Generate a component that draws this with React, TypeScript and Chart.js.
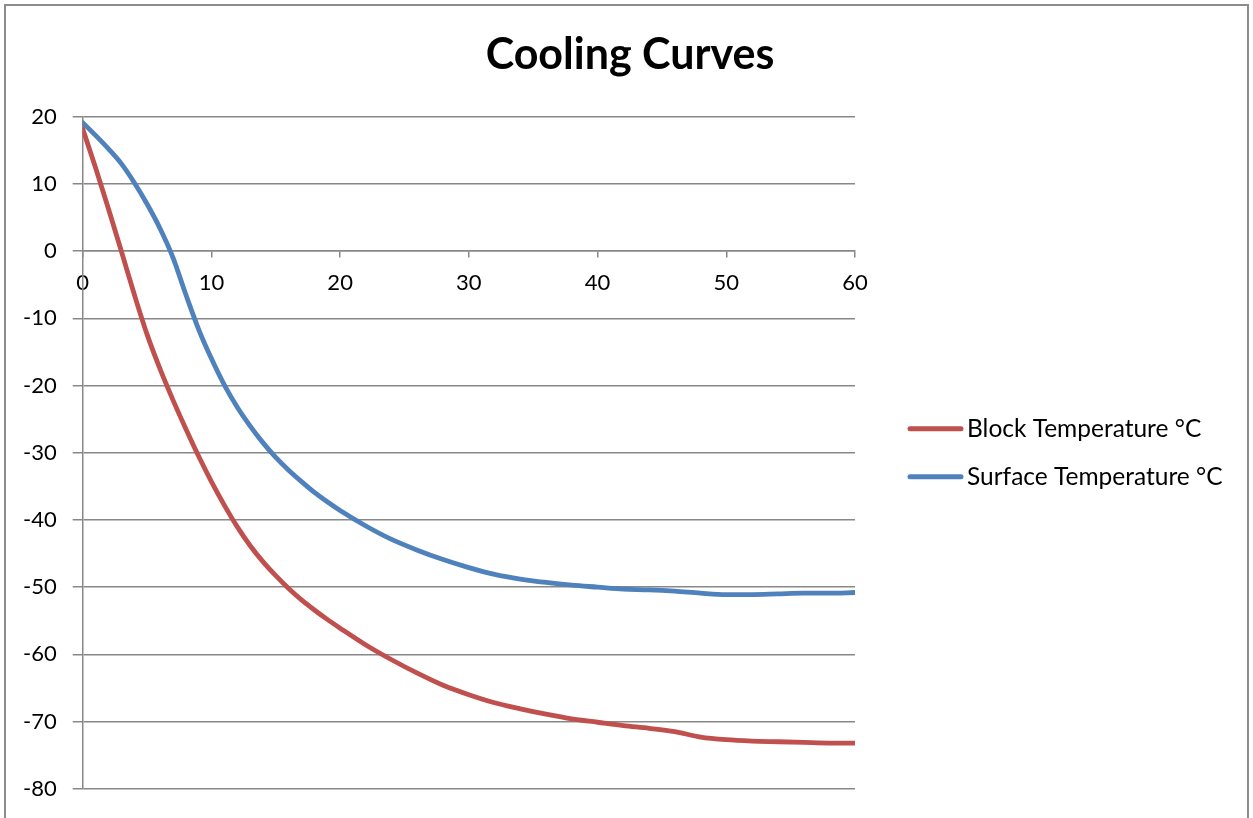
import React, { useEffect, useRef } from "react";
import { Chart, registerables } from "chart.js";

Chart.register(...registerables);

const minutes = [0,1,2,3,4,5,6,7,8,9,10,11,12,13,14,15,16,17,18,19,20,22,24,26,28,30,32,34,36,38,40,42,44,46,48,50,52,54,56,58,60];
const blockTemp = [18.2,12.4,6.3,0.0,-6.4,-12.4,-17.5,-22.1,-26.4,-30.5,-34.3,-37.8,-41.0,-43.8,-46.2,-48.3,-50.2,-51.9,-53.4,-54.8,-56.1,-58.6,-60.8,-62.8,-64.6,-66.0,-67.2,-68.1,-68.9,-69.6,-70.1,-70.6,-71.0,-71.5,-72.3,-72.7,-72.9,-73.0,-73.1,-73.2,-73.2];
const surfaceTemp = [19.1,17.2,15.2,13.0,10.2,7.0,3.4,-0.9,-6.4,-11.6,-16.0,-19.9,-23.2,-26.0,-28.5,-30.7,-32.6,-34.3,-35.9,-37.3,-38.6,-40.9,-42.9,-44.5,-45.9,-47.1,-48.1,-48.8,-49.3,-49.7,-50.0,-50.3,-50.4,-50.6,-50.9,-51.1,-51.1,-51.0,-50.9,-50.9,-50.8];
const seriesNames = ["Block Temperature °C", "Surface Temperature °C"];
const seriesColors = ["#C0504D", "#4F81BD"];
const chartTitle = "Cooling Curves";
const xTicks = [0, 10, 20, 30, 40, 50, 60];
const yTicks = [20, 10, 0, -10, -20, -30, -40, -50, -60, -70, -80];

const FONT = "Lato";

const sideLegend = {
  id: "sideLegend",
  afterDraw(chart: any) {
    const { ctx, chartArea } = chart;
    const cy = (chartArea.top + chartArea.bottom) / 2;
    const x0 = chartArea.right + 55;
    ctx.save();
    chart.data.datasets.forEach((ds: any, i: number) => {
      const y = cy - 24 + i * 48;
      ctx.strokeStyle = ds.borderColor;
      ctx.lineWidth = 5;
      ctx.lineCap = "round";
      ctx.beginPath();
      ctx.moveTo(x0, y);
      ctx.lineTo(x0 + 51, y);
      ctx.stroke();
      ctx.fillStyle = "#000";
      ctx.font = `24.5px ${FONT}`;
      ctx.textBaseline = "middle";
      ctx.textAlign = "left";
      ctx.fillText(ds.label, x0 + 57, y);
    });
    ctx.restore();
  },
};

export default function App() {
  const ref = useRef<HTMLCanvasElement | null>(null);
  useEffect(() => {
    if (!ref.current) return;
    const grid = "#888888";
    const mk = (i: number, vals: number[]) => ({
      label: seriesNames[i],
      data: minutes.map((m, k) => ({ x: m, y: vals[k] })),
      borderColor: seriesColors[i],
      backgroundColor: seriesColors[i],
      borderWidth: 4.8,
      borderCapStyle: "round",
      borderJoinStyle: "round",
      pointRadius: 0,
      cubicInterpolationMode: "monotone",
      yAxisID: "y",
    });
    const chart = new Chart(ref.current, {
      type: "line",
      data: { datasets: [mk(0, blockTemp), mk(1, surfaceTemp)] },
      options: {
        animation: false,
        responsive: true,
        maintainAspectRatio: false,
        layout: { padding: { left: 7, right: 0, top: 18, bottom: 29 } },
        plugins: {
          title: {
            display: true,
            text: chartTitle,
            color: "#000",
            font: { family: FONT, size: 43, weight: "bold" },
            padding: { top: 11, bottom: 36 },
          },
          legend: { display: false },
          tooltip: { enabled: false },
        },
        scales: {
          x: {
            type: "linear",
            position: { y: 0 },
            min: 0,
            max: 60,
            afterBuildTicks: (s: any) => { s.ticks = xTicks.map((v) => ({ value: v })); },
            ticks: { color: "#000", font: { family: FONT, size: 22 }, padding: 13, maxRotation: 0 },
            grid: { drawOnChartArea: false, drawTicks: true, tickLength: 6, color: grid, lineWidth: 1.5 },
            border: { color: grid, width: 1.5 },
          },
          y: {
            position: "left",
            min: -80,
            max: 20,
            afterBuildTicks: (s: any) => { s.ticks = yTicks.map((v) => ({ value: v })); },
            ticks: { color: "#000", font: { family: FONT, size: 22 }, padding: 16 },
            grid: { color: grid, lineWidth: 1.5, tickLength: 10 },
            border: { color: grid, width: 1.5 },
          },
          legendSpace: {
            type: "linear",
            position: "right",
            min: 0,
            max: 1,
            ticks: { display: false },
            grid: { display: false, drawOnChartArea: false },
            border: { display: false },
            afterFit: (s: any) => { s.width = 398; },
          },
        },
      },
      plugins: [sideLegend],
    } as any);
    return () => chart.destroy();
  }, []);
  return (
    <div style={{ position: "fixed", left: 0, top: 0, width: 1253, height: 818, background: "#fff", overflow: "hidden" }}>
      <div style={{ position: "absolute", left: 4, top: 4, width: 1245, height: 840, border: "2px solid #8c8c8c", boxSizing: "border-box" }} />
      <canvas ref={ref} style={{ position: "absolute", left: 0, top: 0, width: 1253, height: 818 }} />
    </div>
  );
}
